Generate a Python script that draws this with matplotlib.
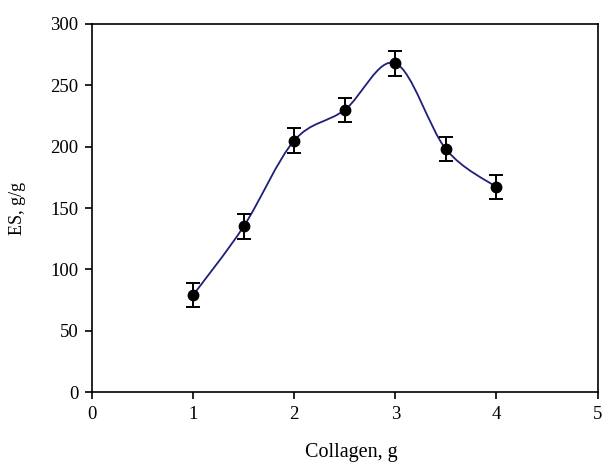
import matplotlib
matplotlib.use("Agg")
import matplotlib.pyplot as plt
from matplotlib.path import Path
from matplotlib.patches import PathPatch
import numpy as np

collagen = [1.0, 1.5, 2.0, 2.5, 3.0, 3.5, 4.0]
es_values = [79, 135, 205, 230, 268, 198, 167]
es_errors = [10, 10, 10, 10, 10, 10, 10]
x_ticks = [0, 1, 2, 3, 4, 5]
y_ticks = [0, 50, 100, 150, 200, 250, 300]

plt.rcParams['font.family'] = ['Liberation Serif', 'DejaVu Serif']

fig = plt.figure(figsize=(6.11, 4.63), dpi=100)
ax = fig.add_axes([0.1506, 0.1533, 0.8274, 0.7949])

# Smoothed line (Catmull-Rom style Bezier, like a spreadsheet smoothed line)
x = np.array(collagen, dtype=float)
y = np.array(es_values, dtype=float)
n = len(x)
verts = [(x[0], y[0])]
codes = [Path.MOVETO]
for i in range(n - 1):
    p0 = (x[i - 1], y[i - 1]) if i > 0 else (x[i], y[i])
    p1 = (x[i], y[i])
    p2 = (x[i + 1], y[i + 1])
    p3 = (x[i + 2], y[i + 2]) if i + 2 < n else (x[i + 1], y[i + 1])
    c1 = (p1[0] + (p2[0] - p0[0]) / 6.0, p1[1] + (p2[1] - p0[1]) / 6.0)
    c2 = (p2[0] - (p3[0] - p1[0]) / 6.0, p2[1] - (p3[1] - p1[1]) / 6.0)
    verts += [c1, c2, p2]
    codes += [Path.CURVE4] * 3
ax.add_patch(PathPatch(Path(verts, codes), facecolor='none',
                       edgecolor='#1f1f78', lw=1.3, zorder=2))

ax.errorbar(collagen, es_values, yerr=es_errors, fmt='o', color='black',
            ms=7.5, capsize=5, elinewidth=1.4, capthick=1.4, zorder=3)

ax.set_xlim(0, 5)
ax.set_ylim(0, 300)
ax.set_xticks(x_ticks)
ax.set_yticks(y_ticks)
ax.tick_params(direction='out', length=5, width=1.2, labelsize=13.5, pad=5)
ax.tick_params(axis='x', pad=5)
for s in ax.spines.values():
    s.set_linewidth(1.2)

fig.text(351 / 611, 1 - 452 / 463, 'Collagen, g', fontsize=14.5,
         ha='center', va='center')
fig.text(18 / 611, 1 - 208 / 463, 'ES, g/g', fontsize=13,
         rotation=90, ha='center', va='center')

fig.savefig('out.png', dpi=100)
